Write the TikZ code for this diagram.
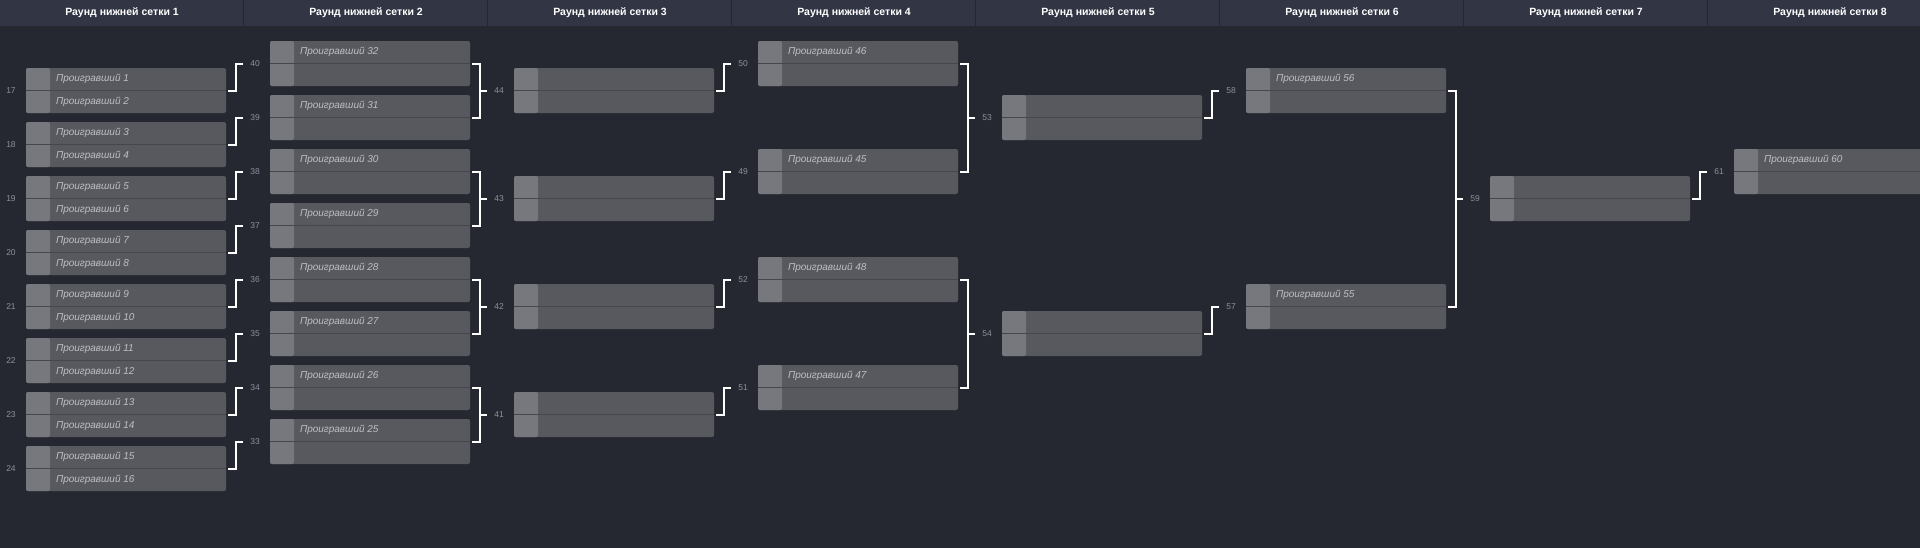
\documentclass[tikz,border=0pt]{standalone}
\usepackage{fontspec}
\setmainfont{Liberation Sans}
\definecolor{bg}{HTML}{262831}
\definecolor{head}{HTML}{323544}
\definecolor{cell}{HTML}{58595E}
\definecolor{seed}{HTML}{77787D}
\definecolor{rule}{HTML}{46474C}
\definecolor{txt}{HTML}{BEBFC4}
\definecolor{numc}{HTML}{8D909B}
\begin{document}
\begin{tikzpicture}[x=1pt, y=-1pt,
    match/.style={rectangle, fill=cell, rounded corners=2pt, minimum width=200pt,
      minimum height=45pt, inner sep=0pt,
      path picture={
        \fill[seed] (path picture bounding box.north west) rectangle ([xshift=24pt]path picture bounding box.south west);
        \draw[rule, line width=1pt] (path picture bounding box.west) -- (path picture bounding box.east);}},
    player/.style={anchor=west, inner sep=0pt, text=txt, font=\fontsize{10}{12}\selectfont\itshape},
    num/.style={inner sep=0pt, text=numc, font=\fontsize{8.5}{10}\selectfont},
    roundhead/.style={text=white, font=\fontsize{10.5}{13}\selectfont\bfseries},
    link/.style={draw=white, line width=2pt, shorten <=2pt}]
  \useasboundingbox (0,0) rectangle (1920,547);
  \fill[bg] (-3,-3) rectangle (1923,550);
  % header
  \fill[head] (-3,-3) rectangle (1923,26);
  \foreach \c in {1,...,7}
    \draw[bg, line width=1pt] (244*\c-0.5,0) -- (244*\c-0.5,26);
  \foreach \c in {1,...,8}
    \node[roundhead] (h\c) at (244*\c-122,13) {Раунд нижней сетки \c};

  % round 1
  \foreach \i in {0,...,7} {
    \pgfmathtruncatemacro\id{17+\i}
    \pgfmathtruncatemacro\a{2*\i+1}
    \pgfmathtruncatemacro\b{2*\i+2}
    \node[match] (m\id) at (126,90.5+54*\i) {};
    \node[num] (n\id) at (11,90.5+54*\i) {\id};
    \node[player] (p\a) at ([xshift=30pt,yshift=11.25pt]m\id.west) {Проигравший \a};
    \node[player] (p\b) at ([xshift=30pt,yshift=-11.25pt]m\id.west) {Проигравший \b};
  }
  % round 2
  \foreach \i in {0,...,7} {
    \pgfmathtruncatemacro\id{40-\i}
    \pgfmathtruncatemacro\who{32-\i}
    \pgfmathtruncatemacro\src{17+\i}
    \node[match] (m\id) at (370,63.5+54*\i) {};
    \node[num] (n\id) at (255,63.5+54*\i) {\id};
    \node[player] (p\who) at ([xshift=30pt,yshift=11.25pt]m\id.west) {Проигравший \who};
    \draw[link] (m\src.east) -- ++(10,0) |- ([xshift=-7pt]n\id.west);
  }
  % round 3
  \foreach \i in {0,...,3} {
    \pgfmathtruncatemacro\id{44-\i}
    \pgfmathtruncatemacro\a{40-2*\i}
    \pgfmathtruncatemacro\b{39-2*\i}
    \node[match] (m\id) at (614,90.5+108*\i) {};
    \node[num] (n\id) at (499,90.5+108*\i) {\id};
    \draw[link, shorten >=2pt] (m\a.east) -- ++(10,0) coordinate (j\id) |- (m\b.east);
    \draw[link, shorten <=0pt] (j\id |- n\id) -- ([xshift=-7pt]n\id.west);
  }
  % round 4
  \foreach \i/\id/\who in {0/50/46, 1/49/45, 2/52/48, 3/51/47} {
    \pgfmathtruncatemacro\src{44-\i}
    \node[match] (m\id) at (858,63.5+108*\i) {};
    \node[num] (n\id) at (743,63.5+108*\i) {\id};
    \node[player] (p\who) at ([xshift=30pt,yshift=11.25pt]m\id.west) {Проигравший \who};
    \draw[link] (m\src.east) -- ++(10,0) |- ([xshift=-7pt]n\id.west);
  }
  % round 5
  \foreach \i/\id/\a/\b in {0/53/50/49, 1/54/52/51} {
    \node[match] (m\id) at (1102,117.5+216*\i) {};
    \node[num] (n\id) at (987,117.5+216*\i) {\id};
    \draw[link, shorten >=2pt] (m\a.east) -- ++(10,0) coordinate (j\id) |- (m\b.east);
    \draw[link, shorten <=0pt] (j\id |- n\id) -- ([xshift=-7pt]n\id.west);
  }
  % round 6
  \foreach \i/\id/\who/\src in {0/58/56/53, 1/57/55/54} {
    \node[match] (m\id) at (1346,90.5+216*\i) {};
    \node[num] (n\id) at (1231,90.5+216*\i) {\id};
    \node[player] (p\who) at ([xshift=30pt,yshift=11.25pt]m\id.west) {Проигравший \who};
    \draw[link] (m\src.east) -- ++(10,0) |- ([xshift=-7pt]n\id.west);
  }
  % round 7
  \node[match] (m59) at (1590,198.5) {};
  \node[num] (n59) at (1475,198.5) {59};
  \draw[link, shorten >=2pt] (m58.east) -- ++(10,0) coordinate (j59) |- (m57.east);
  \draw[link, shorten <=0pt] (j59 |- n59) -- ([xshift=-7pt]n59.west);
  % round 8
  \node[match] (m61) at (1834,171.5) {};
  \node[num] (n61) at (1719,171.5) {61};
  \node[player] (p60) at ([xshift=30pt,yshift=11.25pt]m61.west) {Проигравший 60};
  \draw[link] (m59.east) -- ++(10,0) |- ([xshift=-7pt]n61.west);
\end{tikzpicture}
\end{document}
